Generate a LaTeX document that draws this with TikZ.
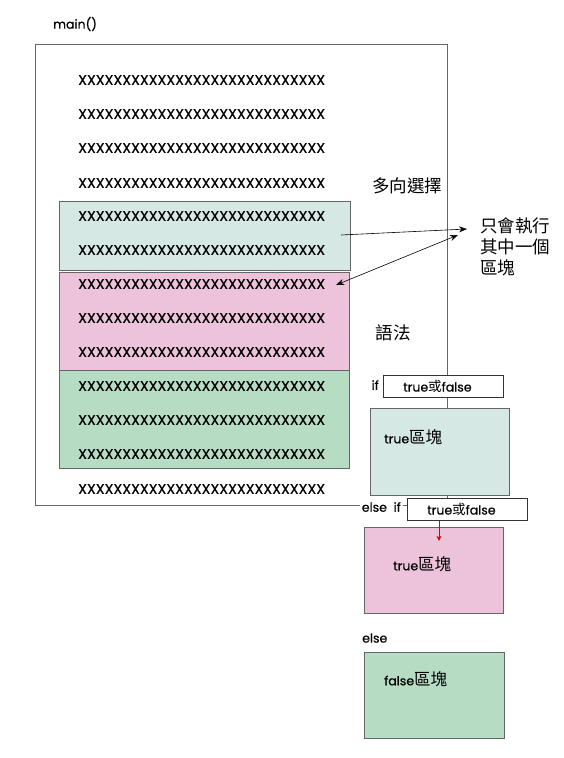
\documentclass[tikz,border=0pt]{standalone}
\usepackage{fontspec}
\setmainfont{Poppins}
\newfontfamily\gfont{Poppins}[FakeBold=0.6]
\newfontfamily\cjk{Noto Sans CJK TC}
\usetikzlibrary{arrows.meta}
\definecolor{tealfill}{HTML}{D5E8E4}
\definecolor{pinkfill}{HTML}{ECC3DA}
\definecolor{greenfill}{HTML}{B7DCC4}
\definecolor{edgegray}{HTML}{666666}
\tikzset{
  xrow/.style={anchor=west, inner sep=0pt, font=\gfont\fontsize{14.2}{16}\selectfont},
  blk/.style={draw=edgegray, line width=0.9pt, anchor=north west, inner sep=0pt},
  condbox/.style={draw=black!80, fill=white, line width=0.8pt, anchor=north west, inner sep=0pt,
    minimum width=120pt, minimum height=22pt, font=\gfont\fontsize{12.5}{14}\selectfont},
  lbl/.style={inner sep=0pt, font=\gfont\fontsize{12.5}{14}\selectfont},
  bigcjk/.style={inner sep=0pt, font=\cjk\fontsize{17.5}{22}\selectfont},
  arr/.style={-{Stealth[length=8pt,width=6pt]}, line width=0.6pt},
}
\newcommand{\blkcjk}[1]{{\cjk\fontsize{16.5}{18}\selectfont #1}}
\newcommand{\orcjk}[1]{{\cjk\fontsize{13.5}{16}\selectfont #1}}
\begin{document}
\begin{tikzpicture}[x=1pt,y=-1pt]
\path[use as bounding box] (0,0) rectangle (563,758);
% main frame
\node[draw=black!60, line width=0.9pt, anchor=north west, minimum width=412pt, minimum height=461pt, inner sep=0pt] (main) at (35,44) {};
\node[lbl, anchor=west] (mainlbl) at (53,24) {main()};
% inner blocks
\node[blk, fill=tealfill, minimum width=291pt, minimum height=69pt] (blkA) at (59,201) {};
\node[blk, fill=pinkfill, minimum width=290pt, minimum height=98pt] (blkB) at (59,272) {};
\node[blk, fill=greenfill, minimum width=290pt, minimum height=98pt] (blkC) at (59,370) {};
% rows
\foreach \i/\y in {1/80,2/114,3/148,4/183,5/216,6/250,7/284,8/318,9/352,10/386,11/420,12/454,13/489}{
  \node[xrow] (r\i) at (78,\y) {XXXXXXXXXXXXXXXXXXXXXXXXXXXX};
}
% right labels
\node[bigcjk] (multi) at (407,186) {多向選擇};
\node[bigcjk, anchor=west, align=left] (note) at (480,247) {只會執行\\[-1pt]其中一個\\[-1pt]區塊};
\node[bigcjk] (syntax) at (393,333) {語法};
% arrows
\coordinate (a1s) at (341,235);
\coordinate (a1e) at (467,229);
\coordinate (a2s) at (458,235);
\coordinate (a2e) at (336,285);
\draw[arr] (a1s) -- (a1e);
\draw[arr, {Stealth[length=8pt,width=6pt]}-{Stealth[length=8pt,width=6pt]}] (a2s) -- (a2e);
% if
\node[lbl, anchor=east] (iflbl) at (379,385) {if};
\node[condbox] (ifbox) at (383,375) {true\orcjk{或}false\hspace*{12pt}};
\node[blk, fill=tealfill, minimum width=139pt, minimum height=87pt] (tb1) at (370,408) {};
\node[lbl, anchor=west] (tb1t) at (384,437) {true\blkcjk{區塊}};
% else if
\node[lbl, anchor=east, fill=white, inner xsep=2pt, inner ysep=1pt] (eiflbl) at (403,507) {else\ \ if};
\node[condbox] (eifbox) at (407,498) {true\orcjk{或}false\hspace*{12pt}};
\node[blk, fill=pinkfill, minimum width=139pt, minimum height=86pt] (tb2) at (364,527) {};
\node[lbl, anchor=west] (tb2t) at (393,564) {true\blkcjk{區塊}};
\draw[red!85!black, line width=0.6pt, -{Stealth[length=5pt,width=5pt]}] ([xshift=32pt]eifbox.south west) -- ([xshift=32pt,yshift=-20pt]eifbox.south west);
% else
\node[lbl, anchor=west] (elselbl) at (362,638) {else};
\node[blk, fill=greenfill, minimum width=140pt, minimum height=86pt] (tb3) at (364,652) {};
\node[lbl, anchor=west] (tb3t) at (384,679) {false\blkcjk{區塊}};
\end{tikzpicture}
\end{document}
